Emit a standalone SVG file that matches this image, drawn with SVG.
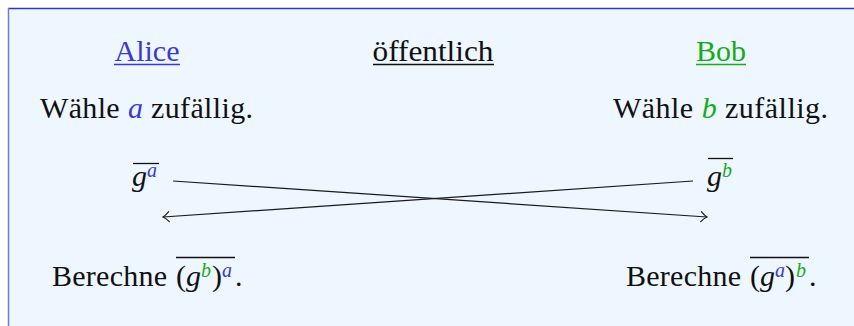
<svg xmlns="http://www.w3.org/2000/svg" width="854" height="326" viewBox="0 0 854 326">
  <style>
    text { font-family: "Liberation Serif", "Times New Roman", serif; font-size: 30px; fill: #111; }
    .it { font-style: italic; }
    .sup { font-size: 20px; font-style: italic; }
    .blue { fill: #3a3ad2; }
    .green { fill: #18aa18; }
    .rule { stroke: #111; stroke-width: 1.3; }
    .conn { stroke: #1a1a1a; stroke-width: 1.25; fill: none; marker-end: url(#tip); }
  </style>
  <defs>
    <marker id="tip" markerUnits="userSpaceOnUse" markerWidth="14" markerHeight="14" viewBox="-8 -7 10 14" refX="0" refY="0" orient="auto">
      <path d="M-6,-5 Q-2.5,-1.2 0,0 Q-2.5,1.2 -6,5" fill="none" stroke="#1a1a1a" stroke-width="1.2" stroke-linecap="round"/>
    </marker>
  </defs>

  <!-- panel -->
  <g id="panel">
    <rect x="8" y="8" width="846" height="318" fill="#eef6ff"/>
    <line x1="8" y1="8.5" x2="854" y2="8.5" stroke="#2a34c8" stroke-width="1.5"/>
    <line x1="8.5" y1="8" x2="8.5" y2="326" stroke="#7078e0" stroke-width="1.5"/>
  </g>

  <!-- column headings -->
  <g id="alice">
    <text x="147" y="61" text-anchor="middle" class="blue">Alice</text>
    <line x1="114" y1="64.5" x2="180" y2="64.5" stroke="#3a3ad2" stroke-width="1.3"/>
  </g>
  <g id="public">
    <text x="433" y="61" text-anchor="middle" textLength="121" lengthAdjust="spacingAndGlyphs">öffentlich</text>
    <line x1="373" y1="64.5" x2="494" y2="64.5" class="rule"/>
  </g>
  <g id="bob">
    <text x="721" y="61" text-anchor="middle" class="green">Bob</text>
    <line x1="696" y1="64.5" x2="746" y2="64.5" stroke="#18aa18" stroke-width="1.3"/>
  </g>

  <!-- secret choices -->
  <g id="alice-choice">
    <text x="40" y="118" textLength="213" lengthAdjust="spacing">Wähle <tspan class="it blue">a</tspan> zufällig.</text>
  </g>
  <g id="bob-choice">
    <text x="613" y="118" textLength="215" lengthAdjust="spacing">Wähle <tspan class="it green">b</tspan> zufällig.</text>
  </g>

  <!-- public values -->
  <g id="alice-public">
    <text x="132" y="186" class="it">g<tspan class="sup blue" dy="-9">a</tspan></text>
    <line x1="133" y1="163.5" x2="159" y2="163.5" class="rule"/>
  </g>
  <g id="bob-public">
    <text x="707" y="186" class="it">g<tspan class="sup green" dy="-9">b</tspan></text>
    <line x1="708" y1="158.5" x2="733" y2="158.5" class="rule"/>
  </g>

  <!-- exchange -->
  <g id="connectors">
    <line x1="173" y1="181" x2="707" y2="217" class="conn"/>
    <line x1="693" y1="181" x2="163" y2="217" class="conn"/>
  </g>

  <!-- shared key -->
  <g id="alice-key">
    <text x="52" y="286" textLength="115" lengthAdjust="spacing">Berechne</text>
    <text x="176" y="286">(<tspan class="it">g</tspan><tspan class="sup green" dy="-9">b</tspan><tspan dy="9" dx="1">)</tspan><tspan class="sup blue" dy="-9">a</tspan><tspan dy="9" dx="3">.</tspan></text>
    <line x1="176" y1="257.5" x2="235" y2="257.5" class="rule"/>
  </g>
  <g id="bob-key">
    <text x="626" y="286" textLength="115" lengthAdjust="spacing">Berechne</text>
    <text x="750" y="286">(<tspan class="it">g</tspan><tspan class="sup blue" dy="-9">a</tspan><tspan dy="9">)</tspan><tspan class="sup green" dy="-9" dx="1">b</tspan><tspan dy="9" dx="3">.</tspan></text>
    <line x1="750" y1="257.5" x2="809" y2="257.5" class="rule"/>
  </g>
</svg>
